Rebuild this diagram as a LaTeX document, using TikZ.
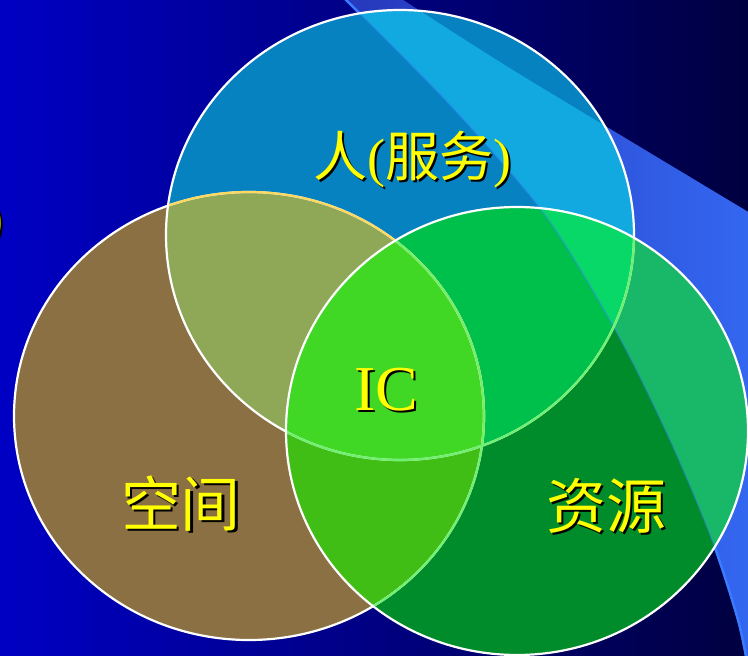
\documentclass[tikz,border=0pt]{standalone}
\usepackage{fontspec}
\setmainfont{Liberation Serif}
\newfontfamily\cjk{Noto Sans CJK SC}
\definecolor{bgL}{HTML}{0000C4}
\definecolor{bgR}{HTML}{000040}
\definecolor{bandL}{HTML}{2636BA}
\definecolor{bandR}{HTML}{3468F2}
\definecolor{bandEdge}{HTML}{3A7CFF}
\definecolor{cBrown}{HTML}{8B7043}
\definecolor{cBlue}{HTML}{0682C0}
\definecolor{cGreen}{HTML}{008C2A}
\definecolor{cOlive}{HTML}{8FA858}
\definecolor{cTR}{HTML}{00C04C}
\definecolor{cLR}{HTML}{40BE16}
\definecolor{cAll}{HTML}{40D824}
\definecolor{cBlueB}{HTML}{12A8E0}
\definecolor{cGreenB}{HTML}{18B868}
\definecolor{cTRB}{HTML}{08D868}
\definecolor{ringY}{HTML}{FFD860}
\definecolor{ringG}{HTML}{70F070}
\definecolor{txtY}{HTML}{FFFF00}
\def\CircT{(400,235) ellipse [x radius=234pt, y radius=225pt]}
\def\CircL{(249,416) ellipse [x radius=235pt, y radius=224pt]}
\def\CircR{(517,431) ellipse [x radius=231pt, y radius=224pt]}
\def\BandLeft{plot[smooth] coordinates {(342,-4) (450,105) (545,215) (617,333) (670,440) (712,540) (738,620) (748,668)}}
\def\BandPath{plot[smooth] coordinates {(342,-4) (450,105) (545,215) (617,333) (670,440) (712,540) (738,620) (748,668)} -- (800,700) -- (800,240) -- plot[smooth] coordinates {(750,213) (607,127) (500,62) (397,-4)} -- cycle}
\begin{document}
\begin{tikzpicture}[x=1pt,y=-1pt,
  ring/.style={line width=2.2pt},
  lbl/.style={text=txtY,inner sep=0pt,anchor=base},
  shd/.style={text=black,inner sep=0pt,anchor=base},
  latin/.style={font=\fontsize{54}{60}\selectfont},
  big/.style={font=\fontsize{64}{70}\selectfont},
  han/.style={font=\cjk\fontsize{60}{66}\selectfont}]
\useasboundingbox (0,0) rectangle (748,656);
% background
\shade[left color=bgL,right color=bgR] (0,0) rectangle (748,656);
\begin{scope}
  \clip \BandPath;
  \shade[left color=bandL,right color=bandR] (330,-10) rectangle (760,670);
\end{scope}
\draw[bandEdge,line width=2.4pt] \BandLeft;
% partial text at left edge
\node[shd,latin,anchor=base east] (edge-s) at (6,238) {)};
\node[lbl,latin,anchor=base east] (edge) at (4,236) {)};
% circle fills
\fill[cBrown] \CircL;
\fill[cBlue] \CircT;
\fill[cGreen] \CircR;
\begin{scope}
  \clip \CircT;
  \fill[cOlive] \CircL;
  \fill[cTR] \CircR;
\end{scope}
\begin{scope}
  \clip \CircL;
  \fill[cLR] \CircR;
  \clip \CircT;
  \fill[cAll] \CircR;
\end{scope}
\begin{scope}
  \clip \BandPath;
  \fill[cBlueB] \CircT;
  \fill[cGreenB] \CircR;
  \clip \CircT;
  \fill[cTRB] \CircR;
\end{scope}
\draw[bandEdge,opacity=0.3,line width=2pt] \BandLeft;
% outlines
\draw[ring,white] \CircL;
\begin{scope}
  \clip \CircT;
  \draw[ring,ringY] \CircL;
\end{scope}
\draw[ring,white] \CircT;
\begin{scope}
  \clip \CircR;
  \draw[ring,ringG] \CircL;
  \draw[ring,ringG] \CircT;
\end{scope}
\draw[ring,white] \CircR;
% labels
\node[shd,latin] (ppl-s) at (414,178) {{\cjk 人}({\cjk 服务})};
\node[lbl,latin] (ppl) at (412,176) {{\cjk 人}({\cjk 服务})};
\node[shd,big] (ic-s) at (388,412) {IC};
\node[lbl,big] (ic) at (386,410) {IC};
\node[shd,han] (space-s) at (183,528) {空间};
\node[lbl,han] (space) at (181,526) {空间};
\node[shd,han] (res-s) at (608,530) {资源};
\node[lbl,han] (res) at (606,528) {资源};
\end{tikzpicture}
\end{document}
